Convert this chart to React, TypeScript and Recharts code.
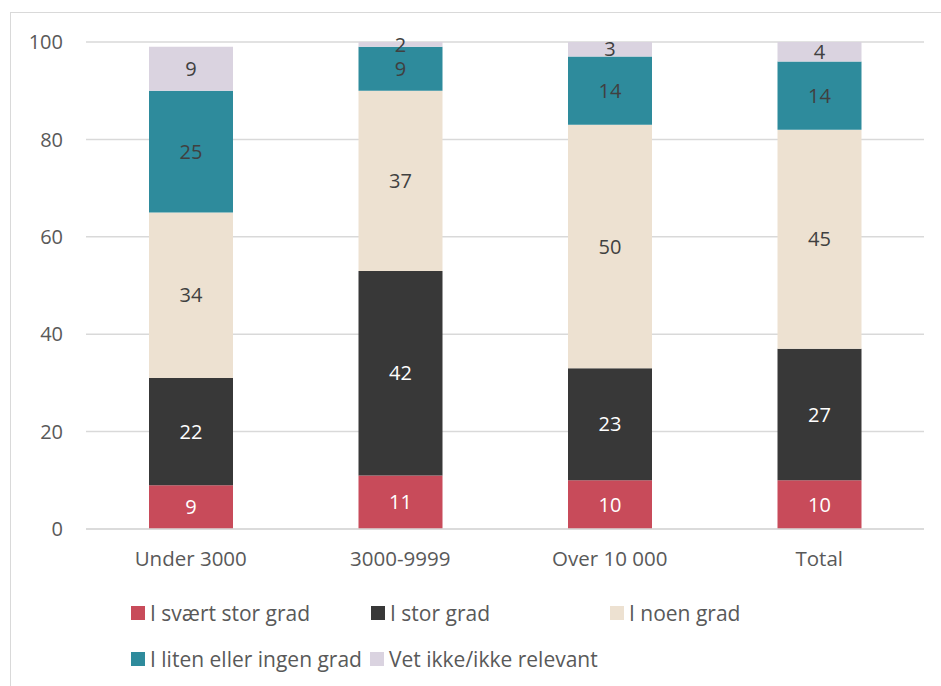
import React from "react";
import { BarChart, Bar, XAxis, YAxis, CartesianGrid, LabelList } from "recharts";

const categories = ["Under 3000", "3000-9999", "Over 10 000", "Total"];
const sværtStor = [9, 11, 10, 10];
const stor = [22, 42, 23, 27];
const noen = [34, 37, 50, 45];
const litenIngen = [25, 9, 14, 14];
const vetIkke = [9, 2, 3, 4];
const yTicks = [0, 20, 40, 60, 80, 100];

const series = [
  { key: "s1", name: "I svært stor grad", values: sværtStor, color: "#C84B5A", label: "#FFFFFF" },
  { key: "s2", name: "I stor grad", values: stor, color: "#383838", label: "#FFFFFF" },
  { key: "s3", name: "I noen grad", values: noen, color: "#EDE1D1", label: "#404040" },
  { key: "s4", name: "I liten eller ingen grad", values: litenIngen, color: "#2E8B9C", label: "#404040" },
  { key: "s5", name: "Vet ikke/ikke relevant", values: vetIkke, color: "#DAD3E0", label: "#404040" },
];

const data = categories.map((c, i) => {
  const row: any = { name: c };
  series.forEach((s) => (row[s.key] = s.values[i]));
  return row;
});

const FONT = "'Open Sans', sans-serif";
const legendPos = [
  { left: 131, top: 605 },
  { left: 371, top: 605 },
  { left: 610, top: 605 },
  { left: 131, top: 651 },
  { left: 370, top: 651 },
];

export default function App() {
  return (
    <div style={{ position: "absolute", left: 0, top: 0, width: 941, height: 686, background: "#fff", overflow: "hidden", fontFamily: FONT }}>
      <div style={{ position: "absolute", left: 10, top: 12, width: 960, height: 700, border: "1px solid #D9D9D9", boxSizing: "border-box" }} />
      <div style={{ position: "absolute", left: 0, top: 0 }}>
        <BarChart width={941} height={686} data={data} margin={{ top: 42, right: 17, bottom: 127, left: 0 }}>
          <CartesianGrid vertical={false} stroke="#D9D9D9" strokeWidth={1.5} />
          <XAxis
            dataKey="name"
            height={30}
            tickSize={0}
            tickMargin={22}
            axisLine={{ stroke: "#D9D9D9", strokeWidth: 1.5 }}
            tickLine={false}
            tick={{ fill: "#595959", fontSize: 20.5, fontFamily: FONT }}
          />
          <YAxis
            width={86}
            domain={[0, 100]}
            ticks={yTicks}
            allowDataOverflow
            tickSize={0}
            tickMargin={23}
            axisLine={false}
            tickLine={false}
            tick={{ fill: "#595959", fontSize: 20, fontFamily: FONT }}
          />
          {series.map((s) => (
            <Bar key={s.key} dataKey={s.key} name={s.name} stackId="a" fill={s.color} barSize={84} isAnimationActive={false}>
              <LabelList dataKey={s.key} position="center" fill={s.label} fontSize={20} fontFamily={FONT} />
            </Bar>
          ))}
        </BarChart>
      </div>
      {series.map((s, i) => (
        <div key={s.key} style={{ position: "absolute", left: legendPos[i].left, top: legendPos[i].top, display: "flex", alignItems: "center", height: 16 }}>
          <div style={{ width: 14, height: 14, background: s.color, marginRight: 5 }} />
          <span style={{ color: "#595959", fontSize: 21, fontFamily: FONT, whiteSpace: "nowrap", lineHeight: "16px" }}>{s.name}</span>
        </div>
      ))}
    </div>
  );
}
